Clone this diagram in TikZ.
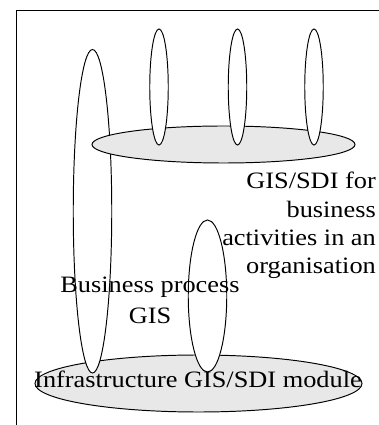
\documentclass[tikz,border=0pt]{standalone}
\usepackage{fontspec}
\setmainfont{Liberation Serif}
\usepackage{tikz}
\usetikzlibrary{positioning}
\definecolor{layergrey}{HTML}{E8E8E8}

\begin{document}
\begin{tikzpicture}[
    oval/.style={draw=black, line width=1.1pt, fill=white},
    layer/.style={draw=black, line width=1.1pt, fill=layergrey},
    lbl/.style={inner sep=0pt, xscale=1.12, transform shape,
      font=\fontsize{26.75pt}{32.4pt}\selectfont}
  ]
  \useasboundingbox (0,0) rectangle (15.16,17);

  % Frame (only left and top edges show)
  \draw[line width=1.1pt] (0.64,0) |- (15.16,16.6);

  % Infrastructure layer (bottom)
  \filldraw[layer] (7.94,1.66) ellipse (6.54 and 1.14);

  % Business process GIS: tall ovals
  \filldraw[oval] (3.7,8.55) ellipse (0.77 and 6.47);
  \filldraw[oval] (8.3,5.16) ellipse (0.77 and 3.04);

  % Business activities layer (top)
  \filldraw[layer] (8.94,11.22) ellipse (5.26 and 0.74);
  \foreach \x in {6.36,9.5,12.56} {
    \filldraw[oval] (\x,13.52) ellipse (0.37 and 2.32);
  }

  % Labels
  \node[lbl] (infra) at (7.92,1.84) {Infrastructure GIS/SDI module};
  \node[lbl, align=center] (process) at (6.0,4.98) {Business process\\[3pt]GIS};
  \node[lbl, align=right, anchor=east] (activity) at (15.04,7.98)
    {GIS/SDI for\\business\\activities in an\\organisation};

\end{tikzpicture}
\end{document}
